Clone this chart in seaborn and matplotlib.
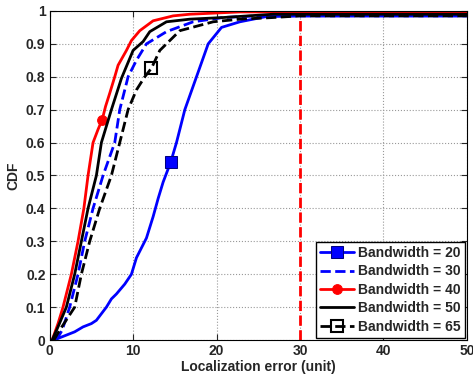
import matplotlib
matplotlib.use('Agg')
import matplotlib.pyplot as plt
import seaborn as sns
import pandas as pd

# --- data (localization error vs CDF) ---
err_20 = [0.5, 1.5, 2.0, 3.0, 4.0, 5.0, 5.6, 6.2, 6.8, 7.4, 8.0, 9.0, 9.8, 10.4, 11.0, 11.6, 12.4, 13.0, 13.6, 14.5, 15.2, 16.2, 17.6, 19.0, 20.6, 22.8, 26.0, 30.0, 50.0]
cdf_20 = [0.0, 0.01, 0.015, 0.025, 0.04, 0.05, 0.06, 0.08, 0.1, 0.125, 0.14, 0.17, 0.2, 0.25, 0.28, 0.31, 0.375, 0.43, 0.48, 0.54, 0.6, 0.7, 0.8, 0.9, 0.95, 0.967, 0.983, 0.985, 0.985]

err_30 = [0.8, 1.5, 2.4, 3.4, 4.2, 5.2, 6.4, 7.8, 8.4, 9.4, 10.4, 11.6, 14.0, 17.2, 20.8, 24.8, 50.0]
cdf_30 = [0.0, 0.03, 0.1, 0.2, 0.3, 0.4, 0.5, 0.6, 0.7, 0.8, 0.85, 0.9, 0.937, 0.967, 0.98, 0.985, 0.985]

err_40 = [0.3, 1.0, 1.6, 2.6, 3.4, 4.1, 4.6, 5.2, 5.8, 6.3, 6.7, 7.2, 7.8, 8.2, 9.2, 9.8, 10.8, 12.4, 14.8, 16.8, 22.8, 50.0]
cdf_40 = [0.0, 0.05, 0.1, 0.2, 0.3, 0.4, 0.5, 0.6, 0.64, 0.67, 0.71, 0.75, 0.8, 0.835, 0.88, 0.91, 0.94, 0.97, 0.985, 0.99, 0.997, 0.997]

err_50 = [0.3, 1.0, 2.0, 3.0, 3.8, 4.6, 5.6, 6.2, 7.4, 8.6, 10.0, 11.2, 12.0, 14.0, 16.8, 20.8, 26.8, 50.0]
cdf_50 = [0.0, 0.04, 0.1, 0.2, 0.3, 0.4, 0.5, 0.6, 0.7, 0.795, 0.88, 0.907, 0.937, 0.967, 0.975, 0.98, 0.99, 0.99]

err_65 = [0.5, 1.2, 3.0, 3.8, 4.8, 6.0, 7.4, 8.4, 9.4, 10.4, 11.4, 12.2, 13.2, 14.0, 15.6, 19.6, 22.8, 26.8, 30.0, 50.0]
cdf_65 = [0.0, 0.03, 0.1, 0.2, 0.3, 0.4, 0.5, 0.6, 0.7, 0.76, 0.8, 0.826, 0.88, 0.9, 0.94, 0.967, 0.975, 0.98, 0.985, 0.985]

threshold_err = [30, 30]
threshold_cdf = [0.0, 0.975]

sns.set_style('ticks')
plt.rcParams['font.family'] = ['Liberation Sans', 'DejaVu Sans']
plt.rcParams['font.weight'] = 'bold'
plt.rcParams['axes.labelweight'] = 'bold'
plt.rcParams['xtick.direction'] = 'in'
plt.rcParams['ytick.direction'] = 'in'
plt.rcParams['xtick.top'] = True
plt.rcParams['ytick.right'] = True

fig = plt.figure(figsize=(4.73, 3.77), dpi=100)
ax = fig.add_axes([0.105, 0.098, 0.882, 0.873])

series = [
    (err_20, cdf_20, 'Bandwidth = 20', dict(color='#0000ff', linestyle='-', marker='s', markerfacecolor='#0000ff',
                                            markeredgecolor='#000080', markersize=8), 19),
    (err_30, cdf_30, 'Bandwidth = 30', dict(color='#0000ff', linestyle='--'), None),
    (err_40, cdf_40, 'Bandwidth = 40', dict(color='#ff0000', linestyle='-', marker='o', markerfacecolor='#ff0000',
                                            markeredgecolor='#ff0000', markersize=7), 9),
    (err_50, cdf_50, 'Bandwidth = 50', dict(color='black', linestyle='-'), None),
    (err_65, cdf_65, 'Bandwidth = 65', dict(color='black', linestyle='--', marker='s', markerfacecolor='none',
                                            markeredgecolor='black', markersize=8, markeredgewidth=1.5), 11),
]

for xs, ys, label, style, mark_idx in series:
    df = pd.DataFrame({'err': xs, 'cdf': ys})
    kw = dict(style)
    if mark_idx is not None:
        kw['markevery'] = [mark_idx]
    sns.lineplot(data=df, x='err', y='cdf', ax=ax, sort=False, estimator=None,
                 linewidth=2, label=label, **kw)

# dashed red threshold line
sns.lineplot(x=threshold_err, y=threshold_cdf, ax=ax, color='#ff0000', linestyle='--',
             linewidth=2, sort=False, estimator=None, legend=False)

ax.set_xlim(0, 50)
ax.set_ylim(0, 1)
ax.set_xticks(range(0, 51, 10))
ax.set_yticks([i / 10 for i in range(11)])
ax.set_yticklabels(['0', '0.1', '0.2', '0.3', '0.4', '0.5', '0.6', '0.7', '0.8', '0.9', '1'])
ax.tick_params(labelsize=10, length=4, width=0.8, pad=3)
ax.grid(True, linestyle=':', color='#999999', linewidth=0.8)
for s in ax.spines.values():
    s.set_color('black')
    s.set_linewidth(0.8)

ax.set_xlabel('Localization error (unit)', fontsize=10, labelpad=1)
ax.set_ylabel('CDF', fontsize=10, labelpad=4)

leg = ax.legend(loc='lower right', fontsize=10, frameon=True, fancybox=False, edgecolor='black',
                framealpha=1, handlelength=2.4, handletextpad=0.3, labelspacing=0.32,
                borderpad=0.3, borderaxespad=0.15)
leg.get_frame().set_linewidth(1.0)

fig.savefig('out.png', dpi=100)
